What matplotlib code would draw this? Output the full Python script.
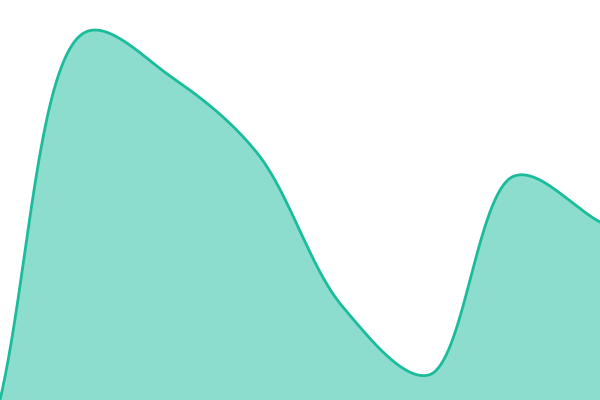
import matplotlib
matplotlib.use("Agg")
import matplotlib.pyplot as plt
import numpy as np

# eight evenly spaced samples, value 0 sits on the bottom edge
x_idx = [0, 1, 2, 3, 4, 5, 6, 7]
values = [0, 368, 323, 247, 93, 25, 224, 178]

LINE = "#1abc9c"
W, H = 600, 400


def catmull_rom(px, py, alpha=0.5, n=80):
    """Centripetal Catmull-Rom in pixel space (drawing only)."""
    p = np.column_stack([px, py]).astype(float)
    p = np.vstack([2 * p[0] - p[1], p, 2 * p[-1] - p[-2]])
    out = []
    for i in range(1, len(p) - 2):
        p0, p1, p2, p3 = p[i - 1], p[i], p[i + 1], p[i + 2]
        t0 = 0.0
        t1 = t0 + np.linalg.norm(p1 - p0) ** alpha
        t2 = t1 + np.linalg.norm(p2 - p1) ** alpha
        t3 = t2 + np.linalg.norm(p3 - p2) ** alpha
        t = np.linspace(t1, t2, n)[:, None]
        a1 = (t1 - t) / (t1 - t0) * p0 + (t - t0) / (t1 - t0) * p1
        a2 = (t2 - t) / (t2 - t1) * p1 + (t - t1) / (t2 - t1) * p2
        a3 = (t3 - t) / (t3 - t2) * p2 + (t - t2) / (t3 - t2) * p3
        b1 = (t2 - t) / (t2 - t0) * a1 + (t - t0) / (t2 - t0) * a2
        b2 = (t3 - t) / (t3 - t1) * a2 + (t - t1) / (t3 - t1) * a3
        c = (t2 - t) / (t2 - t1) * b1 + (t - t1) / (t2 - t1) * b2
        out.append(c)
    return np.vstack(out)


sx = np.array(x_idx) * W / (len(x_idx) - 1)
curve = catmull_rom(sx, values)

fig = plt.figure(figsize=(6, 4), dpi=100)
ax = fig.add_axes([0, 0, 1, 1])
ax.fill_between(curve[:, 0], curve[:, 1], 0, color=LINE, alpha=0.5, lw=0)
ax.plot(curve[:, 0], curve[:, 1], color=LINE, lw=2.0, solid_capstyle="round")
ax.set_xlim(0, W)
ax.set_ylim(0, H)
ax.axis("off")
fig.savefig("out.png", dpi=100)
plt.close(fig)
